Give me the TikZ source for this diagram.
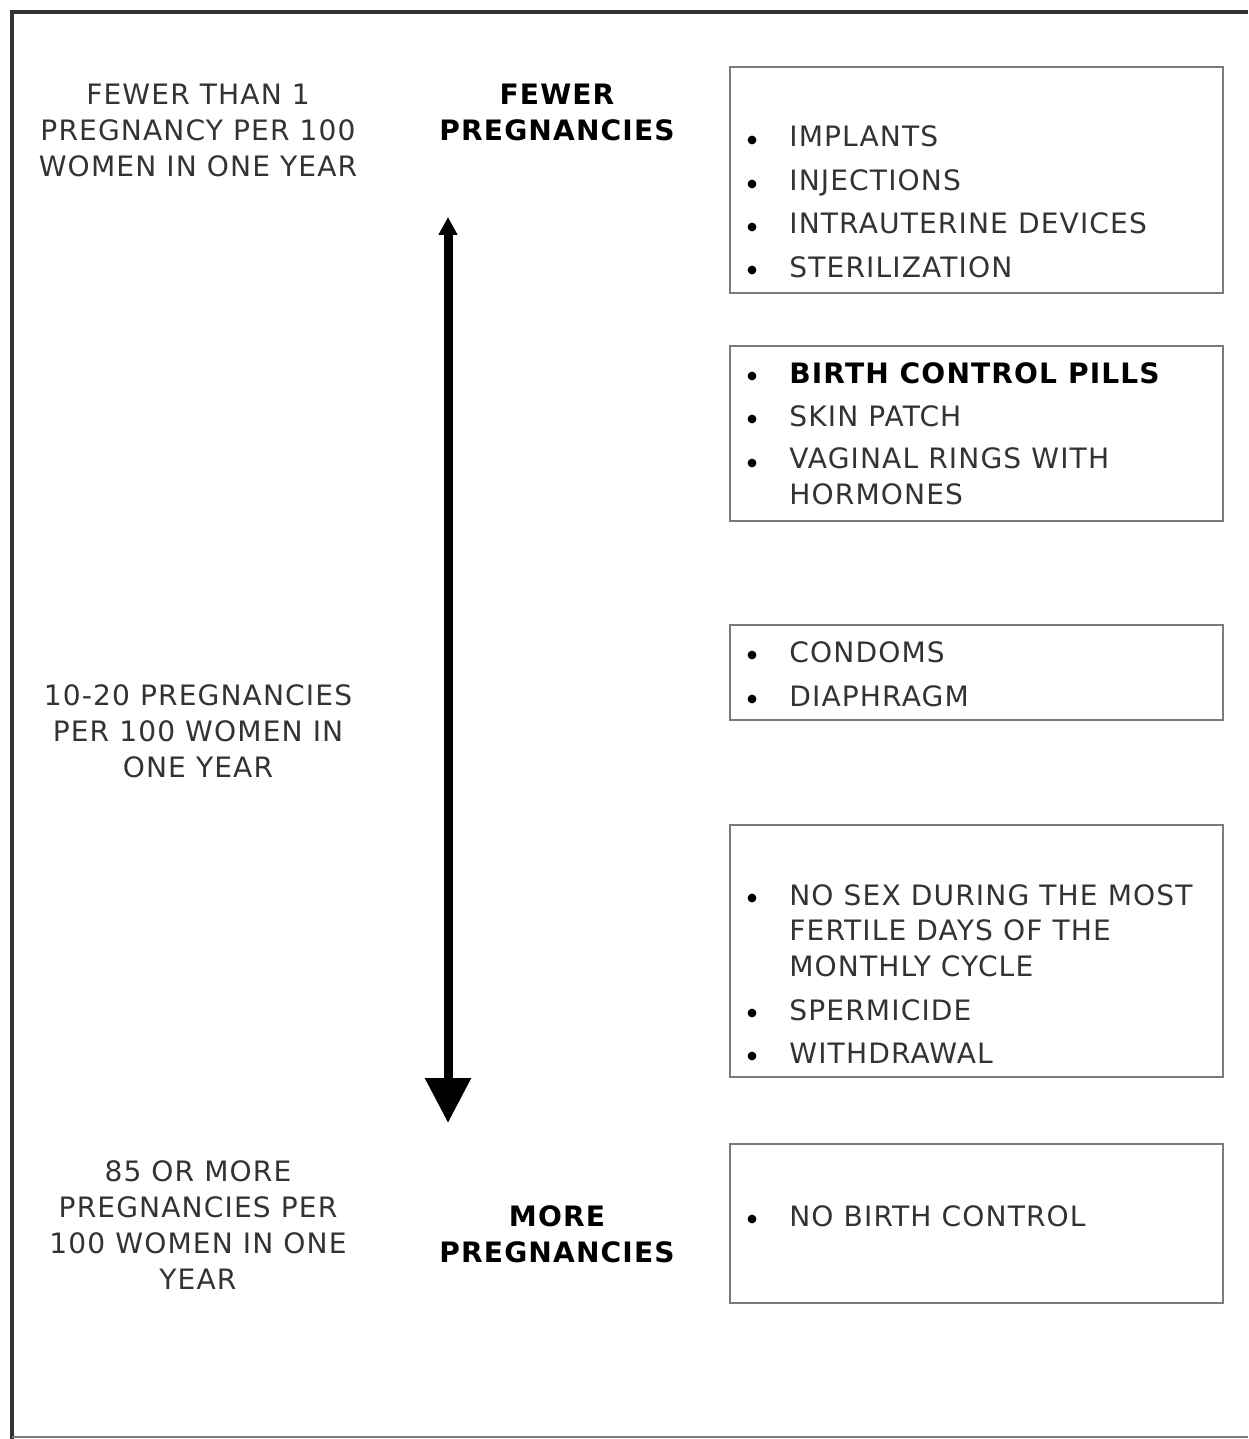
\documentclass[tikz,border=0pt]{standalone}
\usepackage{fontspec}
\setmainfont{DejaVu Sans}[LetterSpace=4]
\usetikzlibrary{arrows.meta}

\definecolor{inkgray}{HTML}{333333}
\definecolor{rulegray}{HTML}{7A7A7A}
\definecolor{framegray}{HTML}{333333}

\tikzset{
  rate/.style={align=center, text=inkgray, inner sep=0pt, font=\fontsize{16}{20.5}\selectfont},
  level/.style={align=center, inner sep=0pt, font=\bfseries\fontsize{16}{20.5}\selectfont},
  methodbox/.style={draw=rulegray, line width=1.4pt, minimum width=9.86cm, inner sep=0pt},
  method/.style={anchor=base west, align=left, text=inkgray, inner sep=0pt, font=\fontsize{16}{20}\selectfont},
}

\begin{document}
\begin{tikzpicture}[x=0.02cm, y=-0.02cm]
\useasboundingbox (0,0) rectangle (1248,1439);

% outer frame, open on the right
\draw[framegray, line width=2.3pt] (1248,12) -- (12,12) -- (12,1439);
\draw[rulegray, line width=1pt] (12,1437) -- (1248,1437);

% left column
\node[rate] (low) at (198,130) {FEWER THAN 1\\PREGNANCY PER 100\\WOMEN IN ONE YEAR};
\node[rate] (mid) at (198,731) {10-20 PREGNANCIES\\PER 100 WOMEN IN\\ONE YEAR};
\node[rate] (high) at (198,1225) {85 OR MORE\\PREGNANCIES PER\\100 WOMEN IN ONE\\YEAR};

% middle column
\node[level] (fewer) at (557,112) {FEWER\\PREGNANCIES};
\node[level] (more) at (557,1234) {MORE\\PREGNANCIES};
\coordinate (tip) at (448,217);
\coordinate (tail) at (448,1123);
\draw[line width=0.18cm, {Triangle[width=0.36cm,length=0.36cm]}-{Triangle[width=0.88cm,length=0.9cm]}] (tip) -- (tail);

% boxes
\node[methodbox, minimum height=4.52cm] (box1) at (976.5,180) {};
\node[methodbox, minimum height=3.5cm] (box2) at (976.5,433.5) {};
\node[methodbox, minimum height=1.9cm] (box3) at (976.5,672.5) {};
\node[methodbox, minimum height=5.04cm] (box4) at (976.5,951) {};
\node[methodbox, minimum height=3.18cm] (box5) at (976.5,1223.5) {};

% items (multi-line ones sit on their last line)
\node[method] (imp) at (789,147) {IMPLANTS};
\node[method] (inj) at (789,191) {INJECTIONS};
\node[method] (iud) at (789,234) {INTRAUTERINE DEVICES};
\node[method] (ster) at (789,277) {STERILIZATION};
\node[method, text=black, font=\bfseries\fontsize{16}{20}\selectfont] (pill) at (789,383) {BIRTH CONTROL PILLS};
\node[method] (patch) at (789,426) {SKIN PATCH};
\node[method] (ring) at (789,504) {VAGINAL RINGS WITH\\HORMONES};
\node[method] (cond) at (789,662) {CONDOMS};
\node[method] (diaph) at (789,706) {DIAPHRAGM};
\node[method] (fert) at (789,976) {NO SEX DURING THE MOST\\FERTILE DAYS OF THE\\MONTHLY CYCLE};
\node[method] (sperm) at (789,1020) {SPERMICIDE};
\node[method] (withd) at (789,1063) {WITHDRAWAL};
\node[method] (none) at (789,1226) {NO BIRTH CONTROL};

\foreach \y in {147,191,234,277,383,426,470,662,706,905,1020,1063,1226}
  \fill (752,\y-7) circle (2.5pt);
\end{tikzpicture}
\end{document}
